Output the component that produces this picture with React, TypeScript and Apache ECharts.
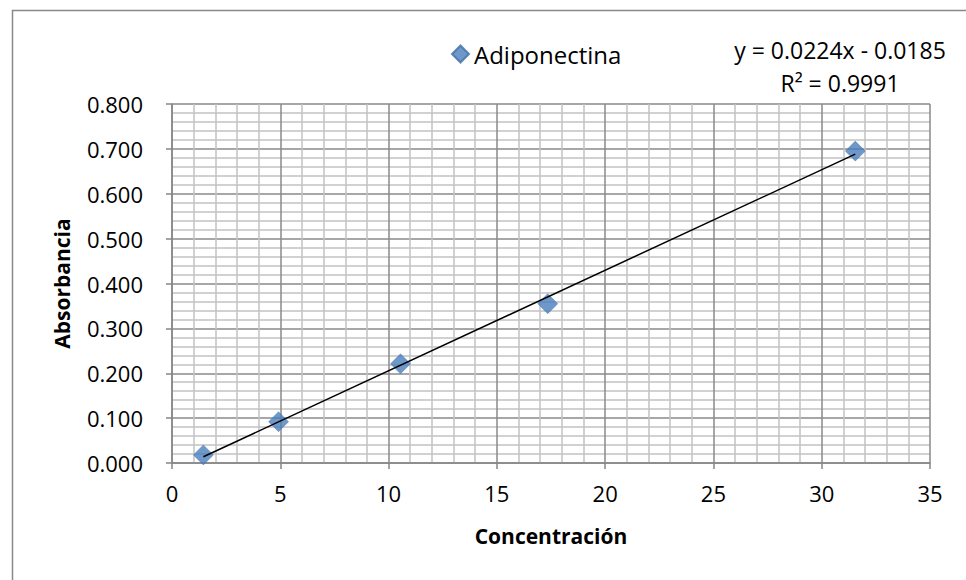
import React, { useEffect, useRef } from "react";
import * as echarts from "echarts";

const seriesName = "Adiponectina";
const concentration = [1.45, 4.92, 10.55, 17.35, 31.55];
const absorbance = [0.018, 0.092, 0.221, 0.355, 0.695];
const slope = 0.0224;
const intercept = -0.0185;
const equationLabel = "y = 0.0224x - 0.0185";
const r2Label = "R² = 0.9991";
const xAxisTitle = "Concentración";
const yAxisTitle = "Absorbancia";

const FONT = "'Open Sans', 'Noto Sans', sans-serif";

export default function App() {
  const ref = useRef<HTMLDivElement>(null);
  useEffect(() => {
    if (!ref.current) return;
    const chart = echarts.init(ref.current, null, { renderer: "svg" });
    const points = concentration.map((x, i) => [x, absorbance[i]]);
    const xMin = Math.min(...concentration);
    const xMax = Math.max(...concentration);
    const trend = [
      [xMin, slope * xMin + intercept],
      [xMax, slope * xMax + intercept],
    ];
    const axisGray = "#868686";
    chart.setOption({
      animation: false,
      backgroundColor: "#ffffff",
      textStyle: { fontFamily: FONT },
      grid: { left: 172, top: 104, width: 758, height: 359, containLabel: false },
      legend: {
        data: [seriesName],
        left: 446,
        top: 37,
        itemWidth: 17,
        itemHeight: 17,
        itemGap: 8,
        textStyle: { fontSize: 24, color: "#000", fontFamily: FONT },
      },
      xAxis: {
        type: "value",
        min: 0,
        max: 35,
        interval: 5,
        name: xAxisTitle,
        nameLocation: "middle",
        nameGap: 62,
        nameTextStyle: { fontSize: 21, fontWeight: "bold", color: "#000", fontFamily: FONT },
        axisLine: { show: true, onZero: false, lineStyle: { color: axisGray, width: 1.5 } },
        axisTick: { show: true, length: 6, lineStyle: { color: axisGray, width: 1.5 } },
        axisLabel: { fontSize: 22, color: "#000", margin: 19, fontFamily: FONT },
        splitLine: { show: true, lineStyle: { color: "#8a8a8a", width: 1.5 } },
        minorTick: { show: false, splitNumber: 5 },
        minorSplitLine: { show: true, lineStyle: { color: "#c2c2c2", width: 1.5 } },
      },
      yAxis: {
        type: "value",
        min: 0,
        max: 0.8,
        interval: 0.1,
        name: yAxisTitle,
        nameLocation: "middle",
        nameGap: 100,
        nameRotate: 90,
        nameTextStyle: { fontSize: 21, fontWeight: "bold", color: "#000", fontFamily: FONT },
        axisLine: { show: true, onZero: false, lineStyle: { color: axisGray, width: 1.5 } },
        axisTick: { show: true, length: 6, lineStyle: { color: axisGray, width: 1.5 } },
        axisLabel: {
          fontSize: 22,
          color: "#000",
          margin: 29,
          fontFamily: FONT,
          formatter: (v: number) => v.toFixed(3),
        },
        splitLine: { show: true, lineStyle: { color: "#8a8a8a", width: 1.5 } },
        minorTick: { show: false, splitNumber: 5 },
        minorSplitLine: { show: true, lineStyle: { color: "#c2c2c2", width: 1.5 } },
      },
      graphic: [
        {
          type: "rect",
          shape: { x: 12.5, y: 10.5, width: 1000, height: 1000 },
          style: { fill: "none", stroke: "#898989", lineWidth: 1.5 },
          silent: true,
          z: -10,
        },
        {
          type: "text",
          x: 840,
          y: 50,
          style: {
            text: equationLabel,
            fontSize: 23,
            fontFamily: FONT,
            fill: "#000",
            align: "center",
            verticalAlign: "middle",
          },
        },
        {
          type: "text",
          x: 840,
          y: 83,
          style: {
            text: r2Label,
            fontSize: 23,
            fontFamily: FONT,
            fill: "#000",
            align: "center",
            verticalAlign: "middle",
          },
        },
      ],
      series: [
        {
          name: "Trend",
          type: "line",
          data: trend,
          showSymbol: false,
          symbol: "none",
          lineStyle: { color: "#000", width: 1.5 },
          z: 3,
          silent: true,
        },
        {
          name: seriesName,
          type: "scatter",
          data: points,
          symbol: "diamond",
          symbolSize: 20,
          itemStyle: { color: "#4a7ebb", borderColor: "#3f6fa8", borderWidth: 0.5 },
          z: 2,
        },
      ],
    });
    return () => chart.dispose();
  }, []);
  return (
    <div
      ref={ref}
      style={{ position: "fixed", left: 0, top: 0, width: 966, height: 580 }}
    />
  );
}
